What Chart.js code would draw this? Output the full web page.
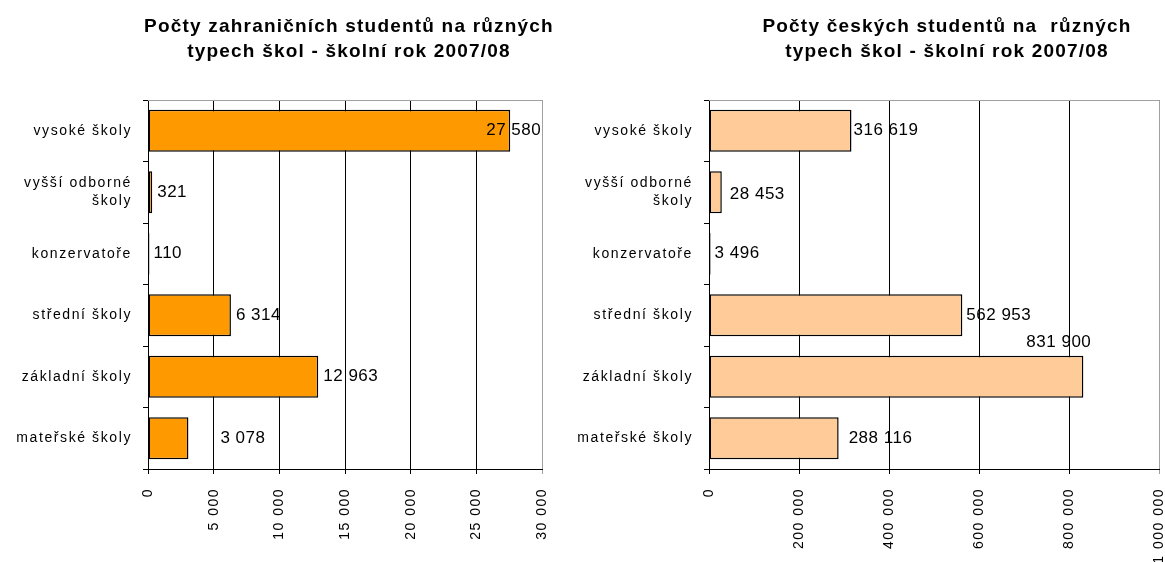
<!DOCTYPE html>
<html>
<head>
<meta charset="utf-8">
<script src="https://cdn.jsdelivr.net/npm/chart.js@4/dist/chart.umd.min.js"></script>
<style>
    html, body { margin: 0; padding: 0; background: #fff; }
    body { width: 1165px; height: 562px; position: relative; overflow: hidden; }
    .box { position: absolute; top: 0; height: 562px; }
</style>
</head>
<body>
<div class="box" style="left:0;width:560px"><canvas id="foreignChart" width="560" height="562"></canvas></div>
<div class="box" style="left:560px;width:605px"><canvas id="czechChart" width="605" height="562"></canvas></div>
<script>
const categories = ['vysoké školy', ['vyšší odborné', 'školy'], 'konzervatoře', 'střední školy', 'základní školy', 'mateřské školy'];
const foreignStudents = [27580, 321, 110, 6314, 12963, 3078];
const czechStudents = [316619, 28453, 3496, 562953, 831900, 288116];
const foreignTicks = [0, 5000, 10000, 15000, 20000, 25000, 30000];
const czechTicks = [0, 200000, 400000, 600000, 800000, 1000000];
const foreignTitle = ['Počty zahraničních studentů na různých', 'typech škol - školní rok 2007/08'];
const czechTitle = ['Počty českých studentů na  různých', 'typech škol - školní rok 2007/08'];

const FONT = '"Liberation Sans", Arial, sans-serif';

function fmt(n) {
    return String(n).replace(/\B(?=(\d{3})+(?!\d))/g, ' ');
}

// the Excel labels are stretched out, canvas letterSpacing gets close
function spaced(px) {
    return scale => {
        if (scale._spaced) return;
        scale._spaced = true;
        const orig = scale.drawLabels;
        scale.drawLabels = function (area) {
            const c = this.ctx;
            const prev = c.letterSpacing;
            c.letterSpacing = px + 'px';
            orig.call(this, area);
            c.letterSpacing = prev;
        };
    };
}

const titlePlugin = {
    id: 'twoLineTitle',
    afterDraw(chart, args, opts) {
        const ctx = chart.ctx;
        ctx.save();
        ctx.letterSpacing = '1.2px';
        ctx.font = 'bold 19px ' + FONT;
        ctx.fillStyle = '#000';
        ctx.textAlign = 'center';
        ctx.textBaseline = 'middle';
        opts.lines.forEach((line, i) => ctx.fillText(line, opts.x, opts.y + i * opts.lineHeight));
        ctx.restore();
    }
};

const framePlugin = {
    id: 'frame',
    beforeDatasetsDraw(chart) {
        const { ctx, chartArea } = chart;
        ctx.save();
        ctx.strokeStyle = '#a0a0a0';
        ctx.lineWidth = 1;
        ctx.beginPath();
        ctx.moveTo(chartArea.left, chartArea.top + 0.5);
        ctx.lineTo(chartArea.right, chartArea.top + 0.5);
        ctx.stroke();
        ctx.restore();
    }
};

const valueLabels = {
    id: 'valueLabels',
    afterDatasetsDraw(chart, args, opts) {
        const ctx = chart.ctx;
        const xs = chart.scales.x;
        const values = chart.data.datasets[0].data;
        ctx.save();
        ctx.letterSpacing = '0.5px';
        ctx.font = '17px ' + FONT;
        ctx.fillStyle = '#000';
        ctx.textAlign = 'left';
        ctx.textBaseline = 'middle';
        chart.getDatasetMeta(0).data.forEach((bar, i) => {
            ctx.fillText(fmt(values[i]), xs.getPixelForValue(values[i]) + opts.dx[i], bar.y + opts.dy[i]);
        });
        ctx.restore();
    }
};

function makeChart(id, values, ticks, color, cfg) {
    const max = ticks[ticks.length - 1];
    const xSpacing = spaced(1.5);
    const ySpacing = spaced(1.6);
    return new Chart(document.getElementById(id), {
        type: 'bar',
        data: {
            labels: categories,
            datasets: [{
                data: values,
                backgroundColor: color,
                borderColor: '#000',
                borderWidth: 1.5,
                borderSkipped: false,
                categoryPercentage: 1,
                barPercentage: 0.68
            }]
        },
        plugins: [framePlugin, valueLabels, titlePlugin],
        options: {
            indexAxis: 'y',
            responsive: false,
            animation: false,
            layout: { padding: { top: 100, right: cfg.padRight, bottom: 0, left: 0 } },
            scales: {
                x: {
                    min: 0,
                    max: max,
                    afterBuildTicks: scale => { scale.ticks = ticks.map(v => ({ value: v })); },
                    afterFit: scale => {
                        scale.height = 93;
                        scale.paddingLeft = 0;
                        scale.paddingRight = 0;
                        xSpacing(scale);
                    },
                    grid: {
                        color: c => (c.tick && c.tick.value === max ? '#a0a0a0' : '#000'),
                        tickLength: 5
                    },
                    border: { color: '#000' },
                    ticks: {
                        autoSkip: false,
                        minRotation: 90,
                        maxRotation: 90,
                        padding: 14,
                        color: '#000',
                        font: { family: FONT, size: 14 },
                        callback: v => fmt(v)
                    }
                },
                y: {
                    afterFit: scale => {
                        scale.width = cfg.axisWidth;
                        scale.paddingTop = 0;
                        scale.paddingBottom = 0;
                        ySpacing(scale);
                    },
                    grid: { drawOnChartArea: false, tickLength: 5, color: '#000' },
                    border: { color: '#000' },
                    ticks: {
                        padding: 11,
                        color: '#000',
                        font: { family: FONT, size: 14, lineHeight: 1.3 }
                    }
                }
            },
            plugins: {
                legend: { display: false },
                tooltip: { enabled: false },
                twoLineTitle: { lines: cfg.title, x: cfg.titleX, y: 27, lineHeight: 25 },
                valueLabels: { dx: cfg.dx, dy: cfg.dy }
            }
        }
    });
}

makeChart('foreignChart', foreignStudents, foreignTicks, '#ff9900', {
    title: foreignTitle,
    titleX: 349,
    axisWidth: 148,
    padRight: 18,
    dx: [-24, 5, 4, 5, 5, 32],
    dy: [0, 0, 0, 0, 0, 0]
});

makeChart('czechChart', czechStudents, czechTicks, '#ffcc99', {
    title: czechTitle,
    titleX: 387,
    axisWidth: 149,
    padRight: 6,
    dx: [2, 8, 4, 4, -57, 10],
    dy: [0, 2, 0, 0, -34, 0]
});
</script>
</body>
</html>
